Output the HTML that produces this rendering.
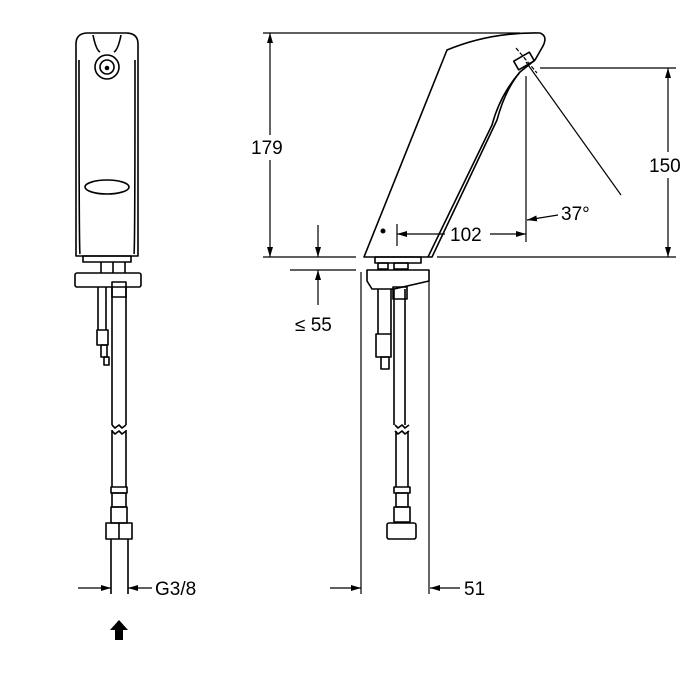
<!DOCTYPE html>
<html><head><style>html,body{margin:0;background:#fff}svg{display:block}</style></head>
<body>
<svg width="700" height="700" viewBox="0 0 700 700" xmlns="http://www.w3.org/2000/svg">
<defs>
<marker id="a" viewBox="0 0 10 6" refX="10" refY="3" markerWidth="10" markerHeight="6" orient="auto-start-reverse" markerUnits="userSpaceOnUse"><path d="M0,0 L10,3 L0,6 z" fill="#000"/></marker>
</defs>
<g fill="none" stroke="#000" stroke-width="1.6" stroke-linejoin="round">
<!-- FRONT VIEW -->
<path d="M76,44 Q76,33 88,33 L126,33 Q138,33 138,44 L138,256 L76,256 Z"/>
<path d="M79,60 Q79,250 80,254 M135,60 Q135,250 134,254"/>
<path d="M93,35 Q96,50 100,52 M121,35 Q118,50 114,52"/>
<circle cx="107" cy="67" r="12"/><circle cx="107" cy="67" r="7"/><circle cx="107" cy="68" r="1.5" fill="#000"/>
<ellipse cx="107" cy="187" rx="22" ry="7"/>
<rect x="83" y="256" width="48" height="6"/>
<rect x="75" y="273" width="66" height="14" rx="2"/>
<line x1="101" y1="262" x2="101" y2="273"/><line x1="113" y1="262" x2="113" y2="273"/><line x1="125" y1="262" x2="125" y2="273"/>
<path d="M98,287 L98,330 M106,287 L106,330"/>
<rect x="97" y="330" width="11" height="15"/><rect x="101" y="345" width="6" height="12"/><rect x="104" y="357" width="5" height="8"/>
<path d="M112,287 L112,425 M126,287 L126,425 M112,430 L112,487 M126,430 L126,487"/>
<rect x="112" y="282" width="14" height="15"/>
<path d="M112,425 l3,3 l4,-3 l3,3 l4,-3 M112,431 l3,3 l4,-3 l3,3 l4,-3"/>
<rect x="111" y="487" width="16" height="6"/><rect x="112" y="493" width="14" height="14"/><rect x="111" y="507" width="16" height="16"/>
<rect x="106" y="523" width="26" height="16"/><line x1="119" y1="523" x2="119" y2="539"/>
<path d="M111,539 L111,594 M128,539 L128,594"/>
</g>
<g stroke="#000" stroke-width="1.3" fill="none">
<line x1="78" y1="588" x2="111" y2="588" marker-end="url(#a)"/>
<line x1="152" y1="588" x2="128" y2="588" marker-end="url(#a)"/>
</g>
<path d="M119,620 L128,630 L123,630 L123,640 L115,640 L115,630 L110,630 Z" fill="#000"/>

<!-- SIDE VIEW -->
<g fill="none" stroke="#000" stroke-width="1.6" stroke-linejoin="round">
<path d="M364,257 L447,50 Q490,32 540,33 Q548,36 543,46 L535,60 L520,72 Q505,90 497,120 L432,257 Z"/>
<path d="M520,72 Q500,95 492,125 L428,257"/>
<rect x="515" y="56" width="18" height="10" transform="rotate(-30 524 61)"/>
<rect x="375" y="257" width="46" height="6"/>
<rect x="378" y="263" width="10" height="6"/><rect x="394" y="263" width="14" height="6"/>
<path d="M367,270 L429,270 L429,281 L394,289 L372,289 L367,281 Z"/>
<path d="M378,289 L378,334 M391,289 L391,334"/>
<rect x="376" y="334" width="15" height="23"/><rect x="381" y="357" width="8" height="12"/>
<path d="M394,289 L394,425 M405,289 L405,425 M396,431 L396,487 M408,431 L408,487"/>
<rect x="393" y="287" width="14" height="12"/>
<path d="M395,425 l3,3 l4,-3 l3,3 l4,-3 M395,431 l3,3 l4,-3 l3,3 l4,-3"/>
<rect x="394" y="487" width="16" height="6"/><rect x="396" y="493" width="12" height="14"/><rect x="394" y="507" width="16" height="15"/>
<rect x="387" y="523" width="29" height="16" rx="2"/>
</g>
<circle cx="383" cy="231" r="2.5" fill="#000"/>
<g stroke="#000" stroke-width="1.2" fill="none">
<line x1="263" y1="33" x2="520" y2="33"/>
<line x1="263" y1="257" x2="356" y2="257"/>
<line x1="437" y1="257" x2="676" y2="257"/>
<line x1="540" y1="68" x2="676" y2="68"/>
<line x1="290" y1="270" x2="356" y2="270"/>
<line x1="361" y1="272" x2="361" y2="594"/>
<line x1="429" y1="280" x2="429" y2="594"/>
<line x1="526" y1="76" x2="526" y2="242"/>
<line x1="397" y1="224" x2="397" y2="246"/>
<line x1="526" y1="62" x2="621" y2="195"/>
<line x1="516" y1="48" x2="537" y2="73" stroke-dasharray="4,2"/>
<line x1="270" y1="135" x2="270" y2="33" marker-end="url(#a)"/>
<line x1="270" y1="160" x2="270" y2="257" marker-end="url(#a)"/>
<line x1="668" y1="152" x2="668" y2="68" marker-end="url(#a)"/>
<line x1="668" y1="178" x2="668" y2="257" marker-end="url(#a)"/>
<line x1="318" y1="225" x2="318" y2="257" marker-end="url(#a)"/>
<line x1="318" y1="305" x2="318" y2="270" marker-end="url(#a)"/>
<line x1="445" y1="234" x2="397" y2="234" marker-end="url(#a)"/>
<line x1="490" y1="234" x2="526" y2="234" marker-end="url(#a)"/>
<line x1="558" y1="215" x2="527" y2="220" marker-end="url(#a)"/>
<line x1="330" y1="588" x2="361" y2="588" marker-end="url(#a)"/>
<line x1="460" y1="588" x2="430" y2="588" marker-end="url(#a)"/>
</g>
<g font-family="Liberation Sans, sans-serif" font-size="19" fill="#000">
<text x="251" y="154">179</text>
<text x="649" y="172">150</text>
<text x="295" y="331">≤ 55</text>
<text x="450" y="241">102</text>
<text x="561" y="220">37°</text>
<text x="155" y="595">G3/8</text>
<text x="464" y="595">51</text>
</g>
</svg>
</body></html>
